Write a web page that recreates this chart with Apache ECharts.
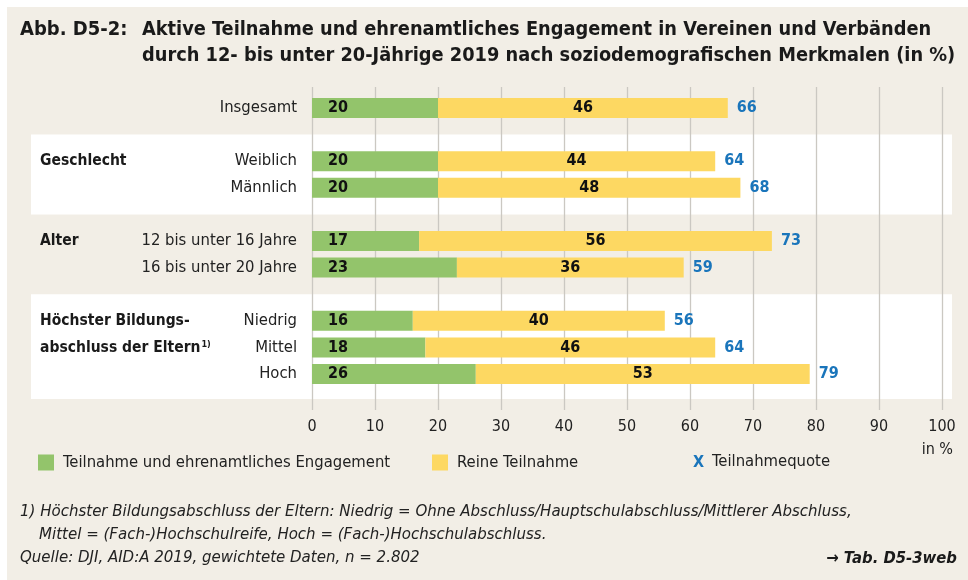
<!DOCTYPE html>
<html>
<head>
<meta charset="utf-8">
<script src="https://cdn.jsdelivr.net/npm/echarts@6/dist/echarts.min.js"></script>
<style>
  html, body { margin: 0; padding: 0; background: #ffffff; }
  #chart { width: 968px; height: 580px; }
</style>
</head>
<body>
<div id="chart"></div>
<script>
// Row labels, their group index and the values per row
const rowLabels = ['Insgesamt', 'Weiblich', 'Männlich', '12 bis unter 16 Jahre', '16 bis unter 20 Jahre', 'Niedrig', 'Mittel', 'Hoch'];
const rowGroup = [0, 1, 1, 2, 2, 3, 3, 3];
const groupTitles = ['', 'Geschlecht', 'Alter', 'Höchster Bildungs-\nabschluss der Eltern{sup|1)}'];
const engagement = [20, 20, 20, 17, 23, 16, 18, 26];          // Teilnahme und ehrenamtliches Engagement
const pureParticipation = [46, 44, 48, 56, 36, 40, 46, 53];   // Reine Teilnahme
const participationRate = [66, 64, 68, 73, 59, 56, 64, 79];   // Teilnahmequote
const xMin = 0, xMax = 100, xStep = 10;

const FONT = '"DejaVu Sans Condensed", "Liberation Sans Narrow", "DejaVu Sans", sans-serif';
const BG = '#f2eee6';
const GREEN = '#93c46b';
const YELLOW = '#fdd862';
const BLUE = '#1a75bb';
const INK = '#1a1a1a';
const TXT = '#222222';

// Slots on the category axis: a blank slot between consecutive groups
const slots = [];
const slotRow = [];
rowLabels.forEach((lab, i) => {
  if (i > 0 && rowGroup[i] !== rowGroup[i - 1]) { slots.push('gap' + i); slotRow.push(-1); }
  slots.push(lab); slotRow.push(i);
});
const bySlot = arr => slotRow.map(r => (r < 0 ? null : arr[r]));

const chart = echarts.init(document.getElementById('chart'), null, { renderer: 'canvas' });

const gridLeft = 312, gridWidth = 630;

const option = {
  animation: false,
  backgroundColor: '#ffffff',
  textStyle: { fontFamily: FONT },
  grid: [
    { left: gridLeft, width: gridWidth, top: 94.7, height: 292.6 },
    { left: gridLeft, width: gridWidth, top: 87, height: 323 }
  ],
  xAxis: [
    { gridIndex: 0, type: 'value', min: xMin, max: xMax, interval: xStep,
      axisLine: { show: false }, axisTick: { show: false }, axisLabel: { show: false }, splitLine: { show: false } },
    { gridIndex: 1, type: 'value', min: xMin, max: xMax, interval: xStep, position: 'bottom',
      axisLine: { show: false }, axisTick: { show: false },
      axisLabel: { color: TXT, fontSize: 16, fontFamily: FONT, margin: 9 },
      splitLine: { show: true, lineStyle: { color: '#cbc8c2', width: 1.3 } } }
  ],
  yAxis: [
    { gridIndex: 0, type: 'category', data: slots, inverse: true,
      axisLine: { show: false }, axisTick: { show: false },
      axisLabel: { color: TXT, fontSize: 16.5, fontFamily: FONT, margin: 15,
        formatter: v => (v.startsWith('gap') ? '' : v) } },
    { gridIndex: 1, type: 'value', show: false, min: 0, max: 1 }
  ],
  legend: [
    { data: ['Teilnahme und ehrenamtliches Engagement'], left: 38, top: 454, icon: 'rect',
      itemWidth: 16, itemHeight: 16, padding: 0,
      textStyle: { fontSize: 16.5, color: TXT, fontFamily: FONT, padding: [0, 0, 0, 4] } },
    { data: ['Reine Teilnahme'], left: 432, top: 454, icon: 'rect',
      itemWidth: 16, itemHeight: 16, padding: 0,
      textStyle: { fontSize: 16.5, color: TXT, fontFamily: FONT, padding: [0, 0, 0, 4] } }
  ],
  series: [
    { name: 'Teilnahme und ehrenamtliches Engagement', type: 'bar', stack: 'total',
      xAxisIndex: 0, yAxisIndex: 0, barWidth: 20, data: bySlot(engagement),
      itemStyle: { color: GREEN },
      label: { show: true, position: 'insideLeft', distance: 16, color: '#111', fontWeight: 'bold', fontSize: 16, fontFamily: FONT } },
    { name: 'Reine Teilnahme', type: 'bar', stack: 'total',
      xAxisIndex: 0, yAxisIndex: 0, barWidth: 20, data: bySlot(pureParticipation),
      itemStyle: { color: YELLOW },
      label: { show: true, position: 'inside', color: '#111', fontWeight: 'bold', fontSize: 16, fontFamily: FONT } },
    { name: 'Teilnahmequote', type: 'scatter', xAxisIndex: 0, yAxisIndex: 0, symbolSize: 0,
      itemStyle: { opacity: 1, color: BLUE },
      data: slotRow.map((r, s) => (r < 0 ? null : [participationRate[r], s])).filter(d => d),
      label: { show: true, position: 'right', distance: 9, color: BLUE, fontWeight: 'bold', fontSize: 16, fontFamily: FONT,
        formatter: p => p.value[0] } },
    { type: 'line', xAxisIndex: 1, yAxisIndex: 1, data: [], silent: true }
  ]
};
chart.setOption(option);

// Background panel, group bands and texts
const yOf = name => chart.convertToPixel({ yAxisIndex: 0 }, name);
const slotH = yOf(slots[1]) - yOf(slots[0]);
const graphics = [];
graphics.push({ type: 'rect', z: -10, silent: true, shape: { x: 7, y: 7, width: 961, height: 573 }, style: { fill: BG } });

// white bands for every second group (Geschlecht, Bildung)
[1, 3].forEach(g => {
  const firstRow = rowGroup.indexOf(g);
  const lastRow = rowGroup.lastIndexOf(g);
  const top = yOf(rowLabels[firstRow]) - slotH;
  const isLast = lastRow === rowLabels.length - 1;
  const bottom = yOf(rowLabels[lastRow]) + (isLast ? 25 : slotH);
  graphics.push({ type: 'rect', z: -9, silent: true, shape: { x: 31, y: top, width: 921, height: bottom - top }, style: { fill: '#ffffff' } });
});

// group titles, first line level with the group's first row
groupTitles.forEach((t, g) => {
  if (!t) return;
  const firstRow = rowGroup.indexOf(g);
  graphics.push({ type: 'text', z: 10, left: 40, top: yOf(rowLabels[firstRow]) - 13.5,
    style: { text: t, fontFamily: FONT, fontSize: 15.5, fontWeight: 'bold', fill: INK, lineHeight: 27,
      rich: { sup: { fontSize: 9, fontWeight: 'bold', verticalAlign: 'middle', lineHeight: 9, padding: [0, 0, 7, 1], fill: INK, fontFamily: FONT } } } });
});

// title
graphics.push({ type: 'text', left: 20, top: 17,
  style: { text: 'Abb. D5-2:', fontFamily: FONT, fontSize: 20, fontWeight: 'bold', fill: INK, lineHeight: 26 } });
graphics.push({ type: 'text', left: 142, top: 17,
  style: { text: 'Aktive Teilnahme und ehrenamtliches Engagement in Vereinen und Verbänden\ndurch 12- bis unter 20-Jährige 2019 nach soziodemografischen Merkmalen (in %)',
    fontFamily: FONT, fontSize: 19.8, fontWeight: 'bold', fill: INK, lineHeight: 26 } });

// axis unit
graphics.push({ type: 'text', right: 15, top: 442, style: { text: 'in %', fontFamily: FONT, fontSize: 16, fill: TXT } });

// third legend entry: the rate marker
graphics.push({ type: 'text', left: 693, top: 455, style: { text: 'X', fontFamily: FONT, fontSize: 16, fontWeight: 'bold', fill: BLUE } });
graphics.push({ type: 'text', left: 712, top: 453, style: { text: 'Teilnahmequote', fontFamily: FONT, fontSize: 16.5, fill: TXT } });

// notes and source
graphics.push({ type: 'text', left: 20, top: 500.5,
  style: { text: '1) Höchster Bildungsabschluss der Eltern: Niedrig = Ohne Abschluss/Hauptschulabschluss/Mittlerer Abschluss,\n    Mittel = (Fach-)Hochschulreife, Hoch = (Fach-)Hochschulabschluss.\nQuelle: DJI, AID:A 2019, gewichtete Daten, n = 2.802',
    fontFamily: FONT, fontSize: 16.7, fontStyle: 'italic', fill: TXT, lineHeight: 23 } });
graphics.push({ type: 'text', right: 11, top: 547,
  style: { text: '→ Tab. D5-3web', fontFamily: FONT, fontSize: 16.5, fontStyle: 'italic', fontWeight: 'bold', fill: INK, lineHeight: 23 } });

chart.setOption({ graphic: graphics });
</script>
</body>
</html>
